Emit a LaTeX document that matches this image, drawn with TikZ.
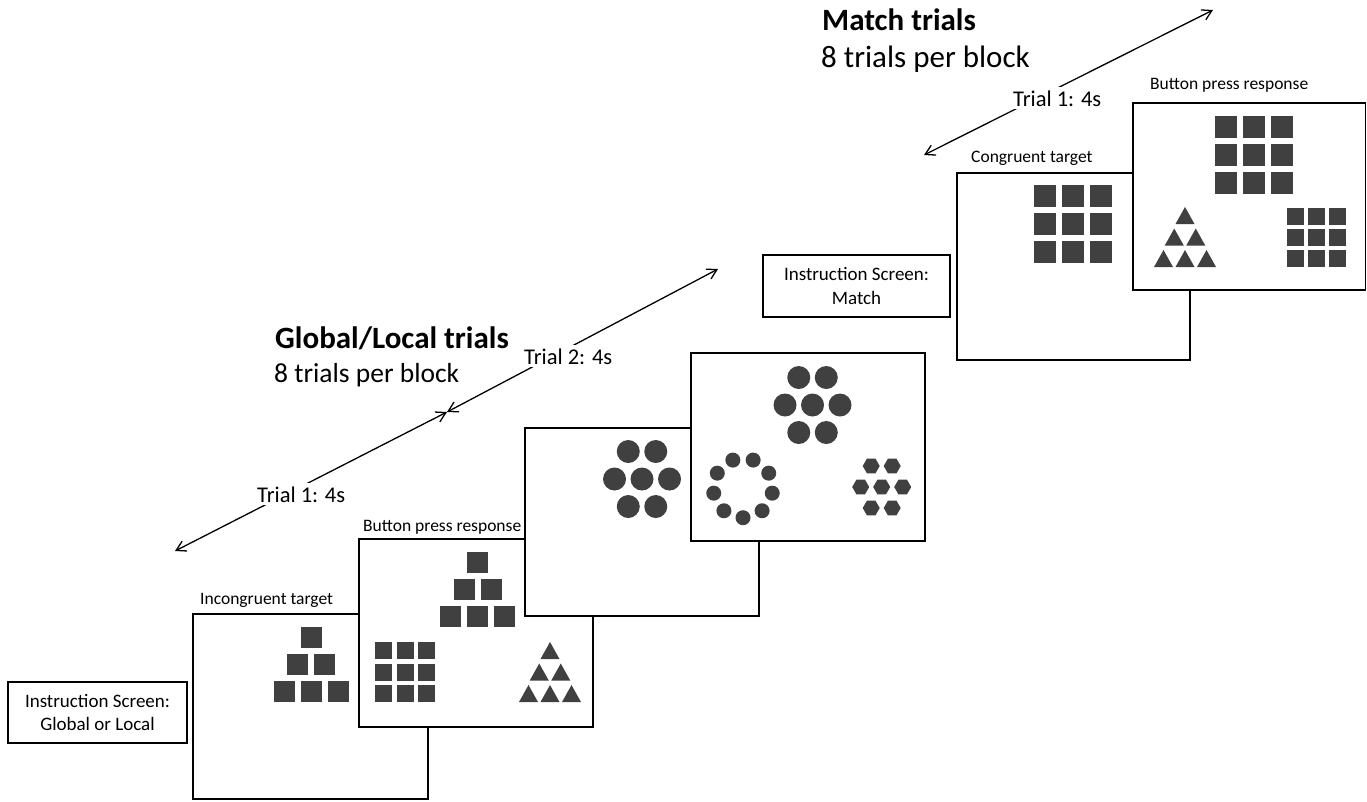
\documentclass[tikz,border=0pt]{standalone}
\usepackage{fontspec}
\setmainfont{Carlito}
\usetikzlibrary{arrows.meta}
\definecolor{glyphgray}{HTML}{404040}

% 3x3 grid of squares: centre x, centre y, side, pitch
\newcommand{\sqgrid}[4]{%
  \foreach \ci in {-1,0,1}
    \foreach \cj in {-1,0,1}
      \fill[glyph] ({#1+\ci*#4-#3/2},{#2+\cj*#4-#3/2}) rectangle +(#3,#3);}
% pyramid of squares (1,2,3): centre x, centre y, side, pitch
\newcommand{\sqpyramid}[4]{%
  \foreach \rw in {0,1,2}
    \foreach \kk in {0,...,\rw}
      \fill[glyph] ({#1+(\kk-\rw/2)*#4-#3/2},{#2+(\rw-1)*#4-#3/2}) rectangle +(#3,#3);}
% pyramid of triangles: centre x, centre y, width, height, pitch
\newcommand{\tripyramid}[5]{%
  \foreach \rw in {0,1,2}
    \foreach \kk in {0,...,\rw}
      \fill[glyph] ({#1+(\kk-\rw/2)*#5},{#2+(\rw-1)*#5-#4/2}) -- ++({#3/2},#4) -- ++(-#3,0) -- cycle;}
% seven dots in a hexagon: centre x, centre y, dot radius, pitch
\newcommand{\dothex}[4]{%
  \foreach \dx/\dy in {-1/0,0/0,1/0,-0.5/-1,0.5/-1,-0.5/1,0.5/1}
    \fill[glyph] ({#1+\dx*#4},{#2+\dy*#4}) circle (#3pt);}
% ring of nine dots: centre x, centre y, ring radius, dot radius
\newcommand{\dotring}[4]{%
  \foreach \aa in {0,...,8}
    \fill[glyph] ({#1+#3*cos(270+40*\aa)},{#2-#3*sin(270+40*\aa)}) circle (#4pt);}
% seven hexagons: centre x, centre y, hexagon radius, pitch
\newcommand{\hexhex}[4]{%
  \foreach \dx/\dy in {-1/0,0/0,1/0,-0.5/-1,0.5/-1,-0.5/1,0.5/1}
    \fill[glyph] ({#1+\dx*#4},{#2+\dy*#4}) +(0:#3) -- +(60:#3) -- +(120:#3)
      -- +(180:#3) -- +(240:#3) -- +(300:#3) -- cycle;}

\begin{document}
\begin{tikzpicture}[x=1pt, y=-1pt]
  \tikzstyle{glyph}=[fill=glyphgray]
  \tikzstyle{screen}=[draw, fill=white, line width=1.6pt]
  \tikzstyle{instr}=[draw, line width=1.4pt, align=center, inner sep=0pt,
                     font=\fontsize{19}{23.5}\selectfont]
  \tikzstyle{cue}=[anchor=base west, inner sep=0pt, font=\fontsize{17.5}{21}\selectfont]
  \tikzstyle{dur}=[anchor=base west, fill=white, inner sep=3pt, font=\fontsize{22.5}{27}\selectfont]
  \tikzstyle{title}=[anchor=base west, inner sep=0pt, font=\fontsize{31}{37}\selectfont\bfseries]
  \tikzstyle{sub}=[anchor=base west, inner sep=0pt]
  \tikzstyle{span}=[line width=1.3pt, {Straight Barb[angle=60:11pt]}-{Straight Barb[angle=60:11pt]}]
  \useasboundingbox (0,0) rectangle (1367,801);

  % Global/Local block
  \node[title] (gl title) at (275,348) {Global/Local trials};
  \node[sub, font=\fontsize{27.5}{33}\selectfont] (gl sub) at (274,382) {8 trials per block};
  \coordinate (gl start) at (175,551);
  \coordinate (gl split) at (447,412);
  \coordinate (gl end) at (718,269);
  \draw[span] (gl split) -- (gl start);
  \draw[span] (gl split) -- (gl end);
  \node[dur] (gl trial1) at (254,502) {Trial 1: 4s};
  \node[dur] (gl trial2) at (521,364) {Trial 2: 4s};

  \node[instr, minimum width=179pt, minimum height=61pt] (gl instr) at (97.5,712.5)
    {Instruction Screen:\\Global or Local};

  \draw[screen] (193,614) rectangle (428,799);
  \node[cue] (incon lbl) at (200,604) {Incongruent target};
  \sqpyramid{311}{664.5}{21}{27}

  \draw[screen] (359,539) rectangle (593,727);
  \node[cue] (resp1 lbl) at (363,531) {Button press response};
  \sqpyramid{477.5}{589.5}{21}{27}
  \sqgrid{405}{672}{17}{21.5}
  \tripyramid{550}{672}{19}{17}{21.5}

  \draw[screen] (525,428) rectangle (759,616);
  \dothex{642}{479}{11.5}{27.5}

  \draw[screen] (691,353) rectangle (925,541);
  \dothex{812.5}{405}{11.5}{27.5}
  \dotring{743}{488}{29.7}{7.5}
  \hexhex{881.7}{487}{8.5}{21}

  % Match block
  \node[title] (m title) at (822,30) {Match trials};
  \node[sub, font=\fontsize{31}{37}\selectfont] (m sub) at (821,67) {8 trials per block};
  \coordinate (m start) at (924,155);
  \coordinate (m end) at (1213,10);
  \draw[span] (m start) -- (m end);
  \node[dur] (m trial1) at (1010,106) {Trial 1: 4s};

  \node[instr, minimum width=187pt, minimum height=62pt] (m instr) at (856.5,286)
    {Instruction Screen:\\Match};

  \draw[screen] (957,173) rectangle (1190,360);
  \node[cue] (cong lbl) at (971,162) {Congruent target};
  \sqgrid{1073}{224}{22}{28}

  \draw[screen] (1133,103) rectangle (1365.5,290);
  \node[cue] (resp2 lbl) at (1150,89) {Button press response};
  \sqgrid{1254}{155}{22}{28}
  \tripyramid{1185}{237}{19}{17}{21.5}
  \sqgrid{1316.5}{237}{17}{21}
\end{tikzpicture}
\end{document}
